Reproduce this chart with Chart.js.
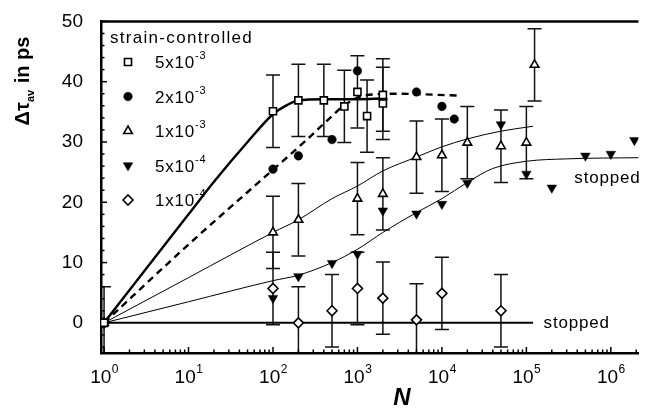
<!DOCTYPE html>
<html>
<head>
<meta charset="utf-8">
<script src="https://cdn.jsdelivr.net/npm/chart.js@4.4.0/dist/chart.umd.min.js"></script>
<style>
  html, body { margin: 0; padding: 0; background: #fff; }
  #wrap { width: 645px; height: 415px; }
</style>
</head>
<body>
<div id="wrap"><canvas id="chart" width="645" height="415"></canvas></div>
<script>
const FONT = "'Liberation Sans', Arial, sans-serif";

// measured points, strain amplitude 5x10^-3 (open squares)
const sqN   = [1, 100, 200, 400, 700, 1000, 1300, 2000, 2000];
const sqY   = [0, 35.1, 36.9, 36.9, 35.9, 38.3, 34.3, 37.8, 36.4];
const sqErr = [0, 6, 6, 6, 6, 6, 6, 6, 6];

// 2x10^-3 (filled circles)
const ciN = [1, 100, 200, 500, 1000, 2000, 5000, 10000, 14000];
const ciY = [0, 25.5, 27.7, 30.4, 41.8, 37.1, 38.3, 35.9, 33.8];

// 1x10^-3 (open triangles)
const tuN   = [1, 100, 200, 1000, 2000, 5000, 10000, 20000, 50000, 100000, 125000];
const tuY   = [0, 15.0, 17.1, 20.6, 21.4, 27.5, 27.8, 29.9, 29.3, 29.9, 42.8];
const tuErr = [0, 6, 6, 6, 6, 6, 6, 6, 6, 6, 6];

// 5x10^-4 (filled down triangles)
const tdN = [1, 100, 200, 500, 1000, 2000, 5000, 10000, 20000, 50000, 100000, 200000, 500000, 1000000, 1900000];
const tdY = [0, 4.1, 7.7, 9.9, 11.4, 18.6, 18.1, 19.7, 23.2, 32.9, 24.7, 22.4, 27.7, 28.0, 30.3];

// 1x10^-4 (open diamonds)
const diN   = [1, 100, 200, 500, 1000, 2000, 5000, 10000, 50000];
const diY   = [0, 5.7, 0, 2.0, 5.7, 4.1, 0.5, 4.9, 2.0];
const diErr = [6, 6, 6, 6, 6, 6, 6, 6, 6];

// fitted curves
const fit5N = [1, 3, 10, 20, 50, 100, 150, 200, 400, 1000, 2000];
const fit5Y = [0, 8.6, 18.0, 23.4, 30.0, 34.6, 36.2, 36.9, 37.1, 37.1, 37.2];
const fit2N = [1, 10, 55, 100, 235, 500, 700, 1200, 3000, 15000];
const fit2Y = [0, 13.0, 22.2, 25.4, 30.0, 34.3, 36.1, 37.7, 38.0, 37.7];
const fit1N = [1, 10, 100, 200, 500, 1000, 2000, 5000, 10000, 20000, 50000, 120000];
const fit1Y = [0, 7.5, 15.0, 17.1, 20.6, 22.7, 25.2, 27.5, 29.2, 30.5, 31.8, 32.6];
const fitHN = [1, 10, 100, 200, 500, 1000, 2000, 5000, 10000, 20000, 40000, 100000, 300000, 2200000];
const fitHY = [0, 3.5, 7.0, 7.9, 10.0, 12.2, 15.0, 18.3, 20.6, 23.3, 25.6, 26.8, 27.2, 27.4];
const stopN = [1, 120000];
const stopY = [0, 0];

const xTicks = [1, 10, 100, 1e3, 1e4, 1e5, 1e6];
const yTicks = [0, 10, 20, 30, 40, 50];

const legendTitle = 'strain-controlled';
const legendBase = ['5x10', '2x10', '1x10', '5x10', '1x10'];
const legendExp  = ['-3', '-3', '-3', '-4', '-4'];

function pts(xs, ys) {
  return xs.map(function(x, i) { return { x: x, y: ys[i] }; });
}

function marker(label, data, style, radius, fill, errors, rot) {
  return {
    label: label,
    data: data,
    errors: errors,
    showLine: false,
    pointStyle: style,
    pointRadius: radius,
    pointRotation: rot || 0,
    pointBackgroundColor: fill,
    pointBorderColor: '#000',
    pointBorderWidth: fill === '#fff' ? 1.6 : 0.5,
    isMarker: true
  };
}

function curve(data, width, dash) {
  return {
    data: data,
    showLine: true,
    pointRadius: 0,
    borderColor: '#000',
    borderWidth: width,
    borderDash: dash || [],
    cubicInterpolationMode: 'monotone'
  };
}

// error bars, drawn under the markers
const errorBars = {
  id: 'errorBars',
  beforeDatasetsDraw(chart) {
    const ctx = chart.ctx, area = chart.chartArea;
    const x = chart.scales.x, y = chart.scales.y;
    ctx.save();
    ctx.beginPath();
    ctx.rect(area.left, area.top, area.right - area.left, area.bottom - area.top);
    ctx.clip();
    ctx.strokeStyle = '#111';
    ctx.lineWidth = 1.5;
    chart.data.datasets.forEach(function(ds) {
      if (!ds.errors) return;
      ds.data.forEach(function(p, i) {
        const e = ds.errors[i];
        if (!e) return;
        const px = x.getPixelForValue(p.x);
        const t = y.getPixelForValue(p.y + e);
        const b = y.getPixelForValue(p.y - e);
        ctx.beginPath();
        ctx.moveTo(px, t); ctx.lineTo(px, b);
        ctx.moveTo(px - 7, t); ctx.lineTo(px + 7, t);
        ctx.moveTo(px - 7, b); ctx.lineTo(px + 7, b);
        ctx.stroke();
      });
    });
    ctx.restore();
  }
};

// frame, inward ticks, tick labels with exponents, legend, titles and notes
const decor = {
  id: 'decor',
  beforeDatasetsDraw(chart) {
    const ctx = chart.ctx, area = chart.chartArea;
    const x = chart.scales.x, y = chart.scales.y;
    ctx.save();
    ctx.strokeStyle = '#000';

    // top frame line
    ctx.lineWidth = 2.5;
    ctx.beginPath();
    ctx.moveTo(area.left, area.top);
    ctx.lineTo(area.right, area.top);
    ctx.stroke();

    // y ticks every 2, major every 10
    ctx.lineWidth = 1.5;
    for (let v = -4; v <= 50; v += 2) {
      const py = y.getPixelForValue(v);
      const len = v % 10 === 0 ? 6 : 3.5;
      ctx.beginPath();
      ctx.moveTo(area.left, py);
      ctx.lineTo(area.left + len, py);
      ctx.stroke();
    }
    // x ticks, log minors
    for (let d = 0; d <= 6; d++) {
      for (let k = 1; k <= 9; k++) {
        const v = k * Math.pow(10, d);
        if (v > x.max) break;
        const px = x.getPixelForValue(v);
        const len = k === 1 ? 6 : 3.5;
        ctx.beginPath();
        ctx.moveTo(px, area.bottom);
        ctx.lineTo(px, area.bottom - len);
        ctx.stroke();
      }
    }

    // x tick labels: 10 with raised exponent
    ctx.fillStyle = '#000';
    ctx.textAlign = 'left';
    ctx.textBaseline = 'alphabetic';
    xTicks.forEach(function(v) {
      const e = String(Math.round(Math.log10(v)));
      ctx.font = '19px ' + FONT;
      const wb = ctx.measureText('10').width;
      ctx.font = '12px ' + FONT;
      const we = ctx.measureText(e).width;
      const left = x.getPixelForValue(v) - (wb + we) / 2;
      ctx.font = '19px ' + FONT;
      ctx.fillText('10', left, 383);
      ctx.font = '12px ' + FONT;
      ctx.fillText(e, left + wb + 0.5, 373);
    });

    // legend
    ctx.font = '17px ' + FONT;
    ctx.letterSpacing = '1.3px';
    ctx.fillText(legendTitle, 110, 43);
    ctx.letterSpacing = '0.8px';
    const markers = chart.data.datasets.filter(function(ds) { return ds.isMarker; });
    markers.forEach(function(ds, i) {
      const cy = 62 + i * 34.5;
      ctx.fillStyle = ds.pointBackgroundColor;
      ctx.strokeStyle = '#000';
      ctx.lineWidth = ds.pointBorderWidth;
      Chart.helpers.drawPoint(ctx, {
        pointStyle: ds.pointStyle,
        radius: ds.pointRadius,
        rotation: ds.pointRotation,
        borderWidth: ds.pointBorderWidth
      }, 128, cy);
      ctx.fillStyle = '#000';
      ctx.font = '17px ' + FONT;
      ctx.fillText(legendBase[i], 155, cy + 6);
      const w = ctx.measureText(legendBase[i]).width;
      ctx.font = '11px ' + FONT;
      ctx.fillText(legendExp[i], 155 + w, cy - 3);
    });

    // "stopped" notes
    ctx.font = '17px ' + FONT;
    ctx.textBaseline = 'middle';
    ctx.fillText('stopped', x.getPixelForValue(1.6e5), y.getPixelForValue(0));
    ctx.fillText('stopped', x.getPixelForValue(3.7e5), y.getPixelForValue(24));
    ctx.letterSpacing = '0px';

    // y title: Δτ_av in ps
    ctx.save();
    ctx.translate(29, 81);
    ctx.rotate(-Math.PI / 2);
    ctx.textBaseline = 'alphabetic';
    const big = 'bold 20px ' + FONT, small = 'bold 11px ' + FONT;
    ctx.font = big;
    const w1 = ctx.measureText('\u0394\u03c4').width;
    const w3 = ctx.measureText(' in ps').width;
    ctx.font = small;
    const w2 = ctx.measureText('av').width + 1;
    const sx = -(w1 + w2 + w3) / 2;
    ctx.font = big;
    ctx.fillText('\u0394\u03c4', sx, 0);
    ctx.font = small;
    ctx.fillText('av', sx + w1, 5);
    ctx.font = big;
    ctx.fillText(' in ps', sx + w1 + w2, 0);
    ctx.restore();

    // x title
    ctx.font = 'italic bold 24px ' + FONT;
    ctx.textAlign = 'center';
    ctx.textBaseline = 'middle';
    ctx.fillText('N', 402, 398);

    ctx.restore();
  }
};

const datasets = [
  marker(legendBase[0] + legendExp[0], pts(sqN, sqY), 'rect', 5, '#fff', sqErr),
  marker(legendBase[1] + legendExp[1], pts(ciN, ciY), 'circle', 4.3, '#000'),
  marker(legendBase[2] + legendExp[2], pts(tuN, tuY), 'triangle', 5, '#fff', tuErr),
  marker(legendBase[3] + legendExp[3], pts(tdN, tdY), 'triangle', 5.5, '#000', null, 180),
  marker(legendBase[4] + legendExp[4], pts(diN, diY), 'rectRot', 5, '#fff', diErr),
  curve(pts(fit5N, fit5Y), 2.4),
  curve(pts(fit2N, fit2Y), 2.4, [7, 5]),
  curve(pts(fit1N, fit1Y), 1),
  curve(pts(fitHN, fitHY), 1),
  curve(pts(stopN, stopY), 2)
];

new Chart(document.getElementById('chart'), {
  type: 'scatter',
  data: { datasets: datasets },
  options: {
    responsive: false,
    animation: false,
    layout: { padding: { top: 19, right: 0, left: 0, bottom: 0 } },
    plugins: { legend: { display: false }, tooltip: { enabled: false } },
    scales: {
      x: {
        type: 'logarithmic',
        min: 0.92,
        max: 2.12e6,
        afterBuildTicks: function(scale) {
          scale.ticks = xTicks.map(function(v) { return { value: v, major: true }; });
        },
        afterFit: function(scale) { scale.height = 62; },
        grid: { display: false },
        border: { display: true, color: '#000', width: 2.5 },
        ticks: { display: false }
      },
      y: {
        min: -5,
        max: 50,
        afterBuildTicks: function(scale) {
          scale.ticks = yTicks.map(function(v) { return { value: v }; });
        },
        afterFit: function(scale) { scale.width = 101; },
        grid: { display: false },
        border: { display: true, color: '#000', width: 2.5 },
        ticks: {
          color: '#000',
          padding: 10,
          font: { family: FONT, size: 19 }
        }
      }
    }
  },
  plugins: [errorBars, decor]
});
</script>
</body>
</html>
